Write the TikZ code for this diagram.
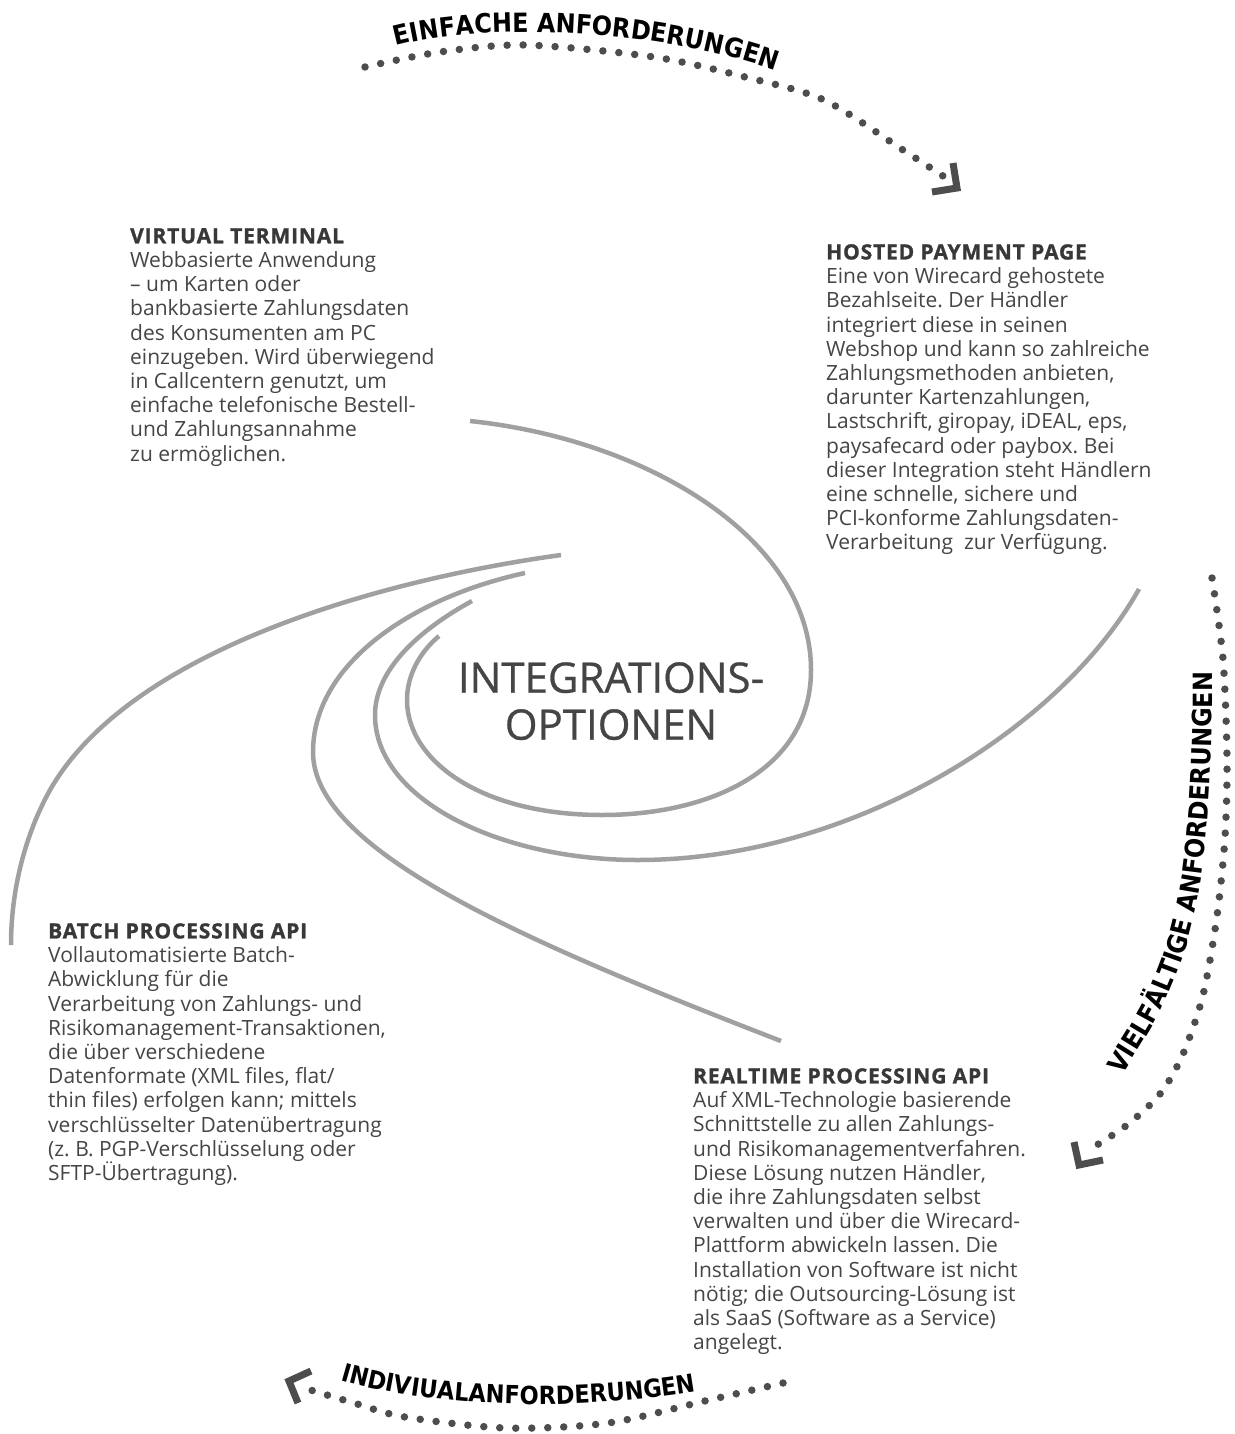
\documentclass[tikz,border=0pt]{standalone}
\usepackage{fontspec}
\setmainfont{Open Sans}
\newfontfamily\arcfam{DejaVu Sans}[FakeStretch=0.9]
\newfontfamily\headfam{Open Sans}[LetterSpace=4, FakeBold=1.2]
\newfontfamily\titlefam{Open Sans}[FakeBold=0.7]
\usetikzlibrary{decorations.text}
\definecolor{txtgrey}{HTML}{454545}
\definecolor{headgrey}{HTML}{383838}
\definecolor{spiralgrey}{HTML}{A0A0A0}
\definecolor{dotgrey}{HTML}{4D4D4D}
\newcommand\arcfont{\arcfam\bfseries\fontsize{26.5}{26}\selectfont}
\newcommand\arcfontsm{\arcfam\bfseries\fontsize{25}{25}\selectfont}
\newcommand\hd[1]{{\headfam\bfseries\color{headgrey}#1}}
\tikzset{
  body/.style={anchor=north west, inner sep=0pt, align=left, text=txtgrey,
    font=\fontsize{21}{24.2}\selectfont\frenchspacing},
  spiral/.style={draw=spiralgrey, line width=4.5pt, line cap=butt},
  dotline/.style={draw=dotgrey, line width=7.5pt, line cap=round, dash pattern=on 0pt off 16pt},
  tiparm/.style={draw=dotgrey, line width=7pt, line join=miter, line cap=butt},
  arclabel/.style={decorate, decoration={text along path, text color=black,
    text format delimiters={|}{|}}},
}
\begin{document}
\begin{tikzpicture}[x=1pt,y=-1pt]
\useasboundingbox (0,0) rectangle (1234,1434);

% spiral curves
\draw[spiral] (470,421) .. controls (650,440) and (811,540) .. (811,670)
  .. controls (811,770) and (710,815) .. (602,815)
  .. controls (480,815) and (407,760) .. (407,700)
  .. controls (407,675) and (420,652) .. (439,636);
\draw[spiral] (472,601) .. controls (410,635) and (375,675) .. (375,715)
  .. controls (375,800) and (500,860) .. (638,860)
  .. controls (850,860) and (1060,730) .. (1139,589);
\draw[spiral] (525,573) .. controls (410,598) and (313,665) .. (313,752)
  .. controls (313,850) and (520,940) .. (781,1041);
\draw[spiral] (561,555) .. controls (380,580) and (130,650) .. (50,790)
  .. controls (25,835) and (11,890) .. (11,945);

% centre title
\node[anchor=north, inner sep=0pt, align=center, text=txtgrey, font=\titlefam\fontsize{42}{47}\selectfont] (title) at (611,662) {INTEGRATIONS-\\OPTIONEN};

% text blocks
\node[body] (vt) at (130,228) {\hd{VIRTUAL TERMINAL}\\
Webbasierte Anwendung\\
– um Karten oder\\
bankbasierte Zahlungsdaten\\
des Konsumenten am PC\\
einzugeben. Wird überwiegend\\
in Callcentern genutzt, um\\
einfache telefonische Bestell-\\
und Zahlungsannahme\\
zu ermöglichen.};

\node[body] (hpp) at (826,244) {\hd{HOSTED PAYMENT PAGE}\\
Eine von Wirecard gehostete\\
Bezahlseite. Der Händler\\
integriert diese in seinen\\
Webshop und kann so zahlreiche\\
Zahlungsmethoden anbieten,\\
darunter Kartenzahlungen,\\
Lastschrift, giropay, iDEAL, eps,\\
paysafecard oder paybox. Bei\\
dieser Integration steht Händlern\\
eine schnelle, sichere und\\
PCI-konforme Zahlungsdaten-\\
Verarbeitung\ \ zur Verfügung.};

\node[body] (batch) at (48,923) {\hd{BATCH PROCESSING API}\\
Vollautomatisierte Batch-\\
Abwicklung für die\\
Verarbeitung von Zahlungs- und\\
Risikomanagement-Transaktionen,\\
die über verschiedene\\
Datenformate (XML files, flat/\\
thin files) erfolgen kann; mittels\\
verschlüsselter Datenübertragung\\
(z.\ B. PGP-Verschlüsselung oder\\
SFTP-Übertragung).};

\node[body] (rt) at (693,1068) {\hd{REALTIME PROCESSING API}\\
Auf XML-Technologie basierende\\
Schnittstelle zu allen Zahlungs-\\
und Risikomanagementverfahren.\\
Diese Lösung nutzen Händler,\\
die ihre Zahlungsdaten selbst\\
verwalten und über die Wirecard-\\
Plattform abwickeln lassen. Die\\
Installation von Software ist nicht\\
nötig; die Outsourcing-Lösung ist\\
als SaaS (Software as a Service)\\
angelegt.};

% dotted arcs
\draw[dotline] plot[smooth] coordinates {(365,67) (440,52) (526,45) (654,57) (745,77) (824,100) (903,150) (943,176)};
\draw[dotline] plot[smooth] coordinates {(1212,578) (1223,659) (1227,758) (1225,837) (1217,916) (1203,995) (1183,1054) (1160,1094) (1127,1125) (1092,1148)};
\draw[dotline] plot[smooth] coordinates {(783,1383) (709,1400) (608,1423) (506,1428) (405,1417) (354,1403) (304,1388)};

% arrow tips
\draw[tiparm] (953,163) -- (957,188) -- (932,192);
\draw[tiparm] (1074,1142) -- (1079,1165) -- (1103,1160);
\draw[tiparm] (311,1371) -- (289,1381) -- (298,1403);

% arc labels
\path[arclabel, decoration={text={|\arcfont|EINFACHE ANFORDERUNGEN}}]
  (396,46) .. controls (480,23) and (660,26) .. (790,76);
\path[arclabel, decoration={text={|\arcfont|VIELFÄLTIGE ANFORDERUNGEN}}]
  plot[smooth] coordinates {(1122,1075) (1160,1012) (1186,947) (1201,880) (1209,800) (1212,720) (1212,640)};
\path[arclabel, decoration={text={|\arcfontsm|INDIVIUALANFORDERUNGEN}}]
  (340,1380) .. controls (440,1410) and (600,1412) .. (725,1386);
\end{tikzpicture}
\end{document}
